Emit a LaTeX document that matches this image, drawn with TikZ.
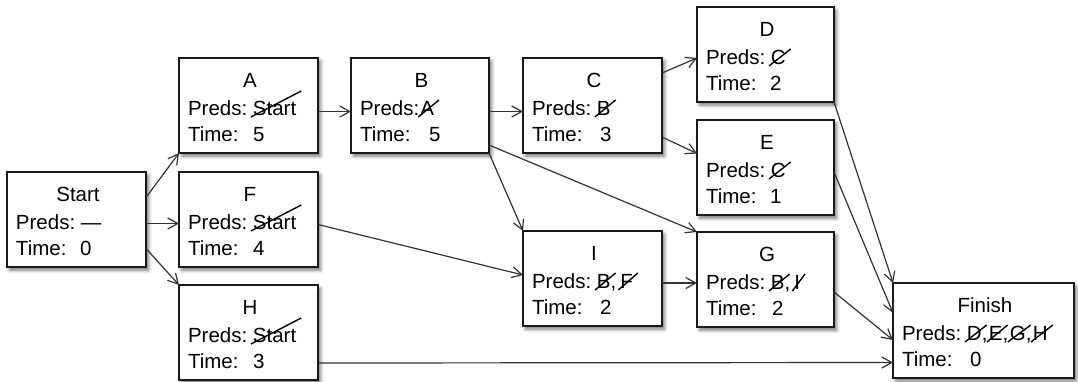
\documentclass[tikz,border=0pt]{standalone}
\usepackage{fontspec}
\setmainfont{Liberation Sans}
\usetikzlibrary{calc,arrows.meta,shadows.blur}
\tikzset{
  box/.style={draw=black!90, line width=1.4pt, fill=white, rectangle, minimum height=95pt,
    outer sep=0pt, inner sep=0pt,
    blur shadow={shadow xshift=2.5pt,shadow yshift=-3pt,shadow blur radius=3.5pt,shadow opacity=55}},
  txt/.style={inner sep=0pt, outer sep=0pt, font=\fontsize{20.5}{24}\selectfont},
  conn/.style={draw=black!80, line width=1.2pt,
    -{Straight Barb[length=10pt,width=11pt,line width=1.2pt]}},
  strike/.style={line width=1.4pt, draw=black},
}
% #1 name, #2 x, #3 y, #4 width, #5 title, #6 time, #7 time offset
\newcommand\taskbox[7]{%
  \node[box, minimum width=#4pt, anchor=north west] (#1) at (#2,#3) {};
  \node[txt, anchor=base] (#1-t) at ($(#1.north)+(1.5,29)$) {#5};
  \node[txt, anchor=base west] (#1-p) at ($(#1.north west)+(9,57)$) {Preds:};
  \node[txt, anchor=base west] (#1-l) at ($(#1.north west)+(9,83)$) {Time:};
  \node[txt, anchor=base west] (#1-n) at ($(#1.north west)+(#7,83)$) {#6};
}
% [rise] name, position, text
\newcommand\crossed[4][15]{%
  \node[txt, anchor=base west] (#2) at #3 {#4};
  \draw[strike] ($(#2.base west)+(-2,2)$) -- ($(#2.base east)+(5,-#1)$);
}
\newcommand\commaafter[2]{%
  \node[txt, anchor=base west] (#1) at (#2.base east) {,};
}
\begin{document}
\begin{tikzpicture}[x=1pt,y=-1pt]
\useasboundingbox (0,0) rectangle (1078,381);

\taskbox{start}{7}{172}{139}{Start}{0}{73}
\node[txt, anchor=base west] (start-x) at ($(start-p.base east)+(5.7,0)$) {—};

\taskbox{a}{179}{58}{139}{A}{5}{74}
\crossed[24]{a-x}{($(a-p.base east)+(5.7,0)$)}{Start}

\taskbox{f}{179}{172}{139}{F}{4}{74}
\crossed[24]{f-x}{($(f-p.base east)+(5.7,0)$)}{Start}

\taskbox{h}{179}{285}{139}{H}{3}{74}
\crossed[24]{h-x}{($(h-p.base east)+(5.7,0)$)}{Start}

\taskbox{b}{351}{58}{138}{B}{5}{78}
\crossed{b-x}{($(b-p.base east)+(1,0)$)}{A}

\taskbox{c}{523}{58}{139}{C}{3}{77}
\crossed{c-x}{($(c-p.base east)+(5.7,0)$)}{B}

\taskbox{d}{697}{7}{137}{D}{2}{73}
\crossed{d-x}{($(d-p.base east)+(5.7,0)$)}{C}

\taskbox{e}{697}{120}{137}{E}{1}{73}
\crossed{e-x}{($(e-p.base east)+(5.7,0)$)}{C}

\taskbox{i}{523}{231}{139}{I}{2}{77}
\crossed{i-x1}{($(i-p.base east)+(5.7,0)$)}{B}
\commaafter{i-c1}{i-x1}
\crossed{i-x2}{($(i-c1.base east)+(4,0)$)}{F}

\taskbox{g}{697}{232}{137}{G}{2}{75}
\crossed{g-x1}{($(g-p.base east)+(5.7,0)$)}{B}
\commaafter{g-c1}{g-x1}
\crossed{g-x2}{($(g-c1.base east)+(4,0)$)}{I}

\taskbox{fin}{893}{283}{181}{Finish}{0}{77}
\crossed{fin-x1}{($(fin-p.base east)+(5.7,0)$)}{D}
\commaafter{fin-c1}{fin-x1}
\crossed{fin-x2}{($(fin-c1.base east)+(1.5,0)$)}{E}
\commaafter{fin-c2}{fin-x2}
\crossed{fin-x3}{($(fin-c2.base east)+(1.5,0)$)}{G}
\commaafter{fin-c3}{fin-x3}
\crossed{fin-x4}{($(fin-c3.base east)+(1.5,0)$)}{H}

% connectors
\draw[conn] ([yshift=22pt]start.east) -- (a.south west);
\draw[conn] ([yshift=-4pt]start.east) -- ([yshift=-4pt]f.west);
\draw[conn] ([yshift=-29pt]start.east) -- (h.north west);
\draw[conn] ([yshift=-6pt]a.east) -- ([yshift=-6pt]b.west);
\draw[conn] ([yshift=-6pt]b.east) -- ([yshift=-6pt]c.west);
\draw[conn] ([yshift=-15pt]c.north east) -- ([yshift=-3.5pt]d.west);
\draw[conn] ([yshift=16pt]c.south east) -- ([yshift=14pt]e.west);
\draw[conn] (b.south east) -- (i.north west);
\draw[conn] ([yshift=8pt]b.south east) -- (g.north west);
\draw[conn] ([yshift=-5pt]f.east) -- ([yshift=3.5pt]i.west);
\draw[conn] ([yshift=-4.5pt]i.east) -- ([yshift=-3.5pt]g.west);
\draw[conn] (d.south east) -- (fin.north west);
\draw[conn] ([yshift=-4.5pt]e.east) -- ([yshift=17.5pt]fin.west);
\draw[conn] ([yshift=-12.5pt]g.east) -- ([yshift=-9.5pt]fin.west);
\draw[conn] ([yshift=-30.5pt]h.east) -- ([yshift=-32pt]fin.west);
\end{tikzpicture}
\end{document}
